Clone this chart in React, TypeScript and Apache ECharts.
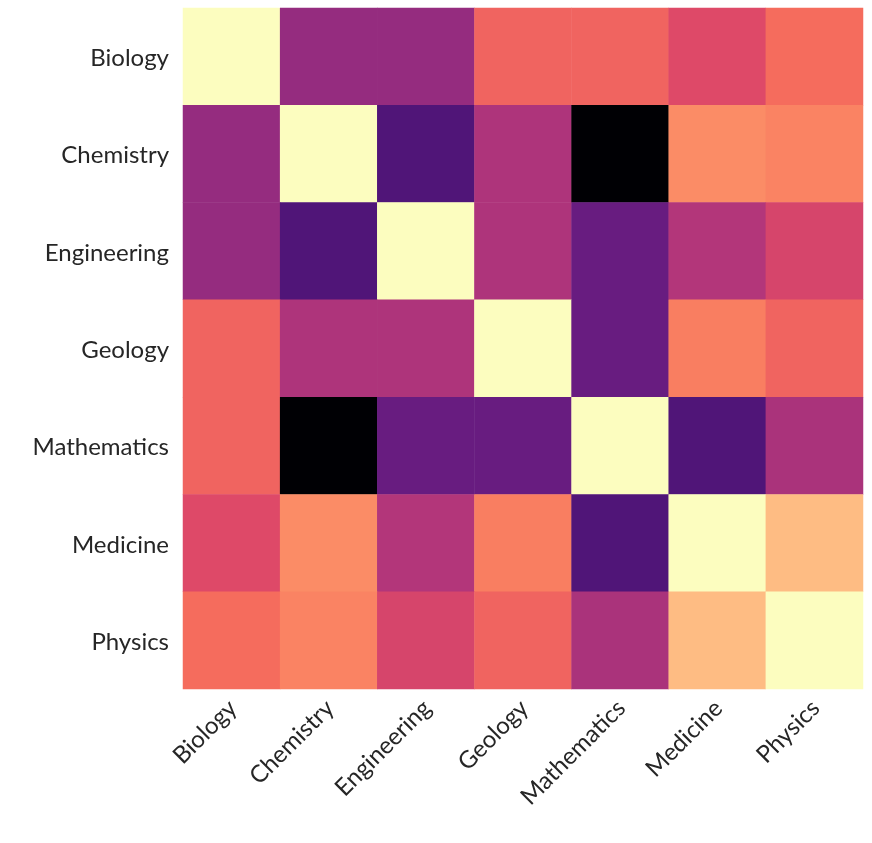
import React, { useEffect, useRef } from "react";
import * as echarts from "echarts";

const categories = ["Biology", "Chemistry", "Engineering", "Geology", "Mathematics", "Medicine", "Physics"];
const matrix: number[][] = [
  [1, 0.42, 0.42, 0.67, 0.67, 0.6, 0.69],
  [0.42, 1, 0.25, 0.48, 0, 0.76, 0.74],
  [0.42, 0.25, 1, 0.48, 0.31, 0.49, 0.58],
  [0.67, 0.48, 0.48, 1, 0.31, 0.73, 0.67],
  [0.67, 0, 0.31, 0.31, 1, 0.25, 0.47],
  [0.6, 0.76, 0.49, 0.73, 0.25, 1, 0.86],
  [0.69, 0.74, 0.58, 0.67, 0.47, 0.86, 1],
];
const magma = ["#000004", "#140e36", "#3b0f70", "#641a80", "#8c2981", "#b73779", "#de4968", "#f7705c", "#fe9f6d", "#fecf92", "#fcfdbf"];

export default function App() {
  const ref = useRef<HTMLDivElement>(null);
  useEffect(() => {
    const chart = echarts.init(ref.current!, null, { renderer: "svg" });
    const data: number[][] = [];
    matrix.forEach((row, i) => row.forEach((v, j) => data.push([j, i, v])));
    const font = "Lato, 'Open Sans', sans-serif";
    chart.setOption({
      animation: false,
      grid: { left: 183, top: 8, width: 680, height: 681 },
      xAxis: {
        type: "category", data: categories,
        axisLine: { show: false }, axisTick: { show: false }, splitLine: { show: false },
        axisLabel: { rotate: 45, fontSize: 24, color: "#262626", fontFamily: font, margin: 14 },
      },
      yAxis: {
        type: "category", data: categories, inverse: true,
        axisLine: { show: false }, axisTick: { show: false }, splitLine: { show: false },
        axisLabel: { fontSize: 24, color: "#262626", fontFamily: font, margin: 14 },
      },
      visualMap: { show: false, min: 0, max: 1, inRange: { color: magma } },
      series: [{ type: "heatmap", data, itemStyle: { borderWidth: 0 } }],
    });
    return () => chart.dispose();
  }, []);
  return <div ref={ref} style={{ position: "fixed", left: 0, top: 0, width: 872, height: 843 }} />;
}
